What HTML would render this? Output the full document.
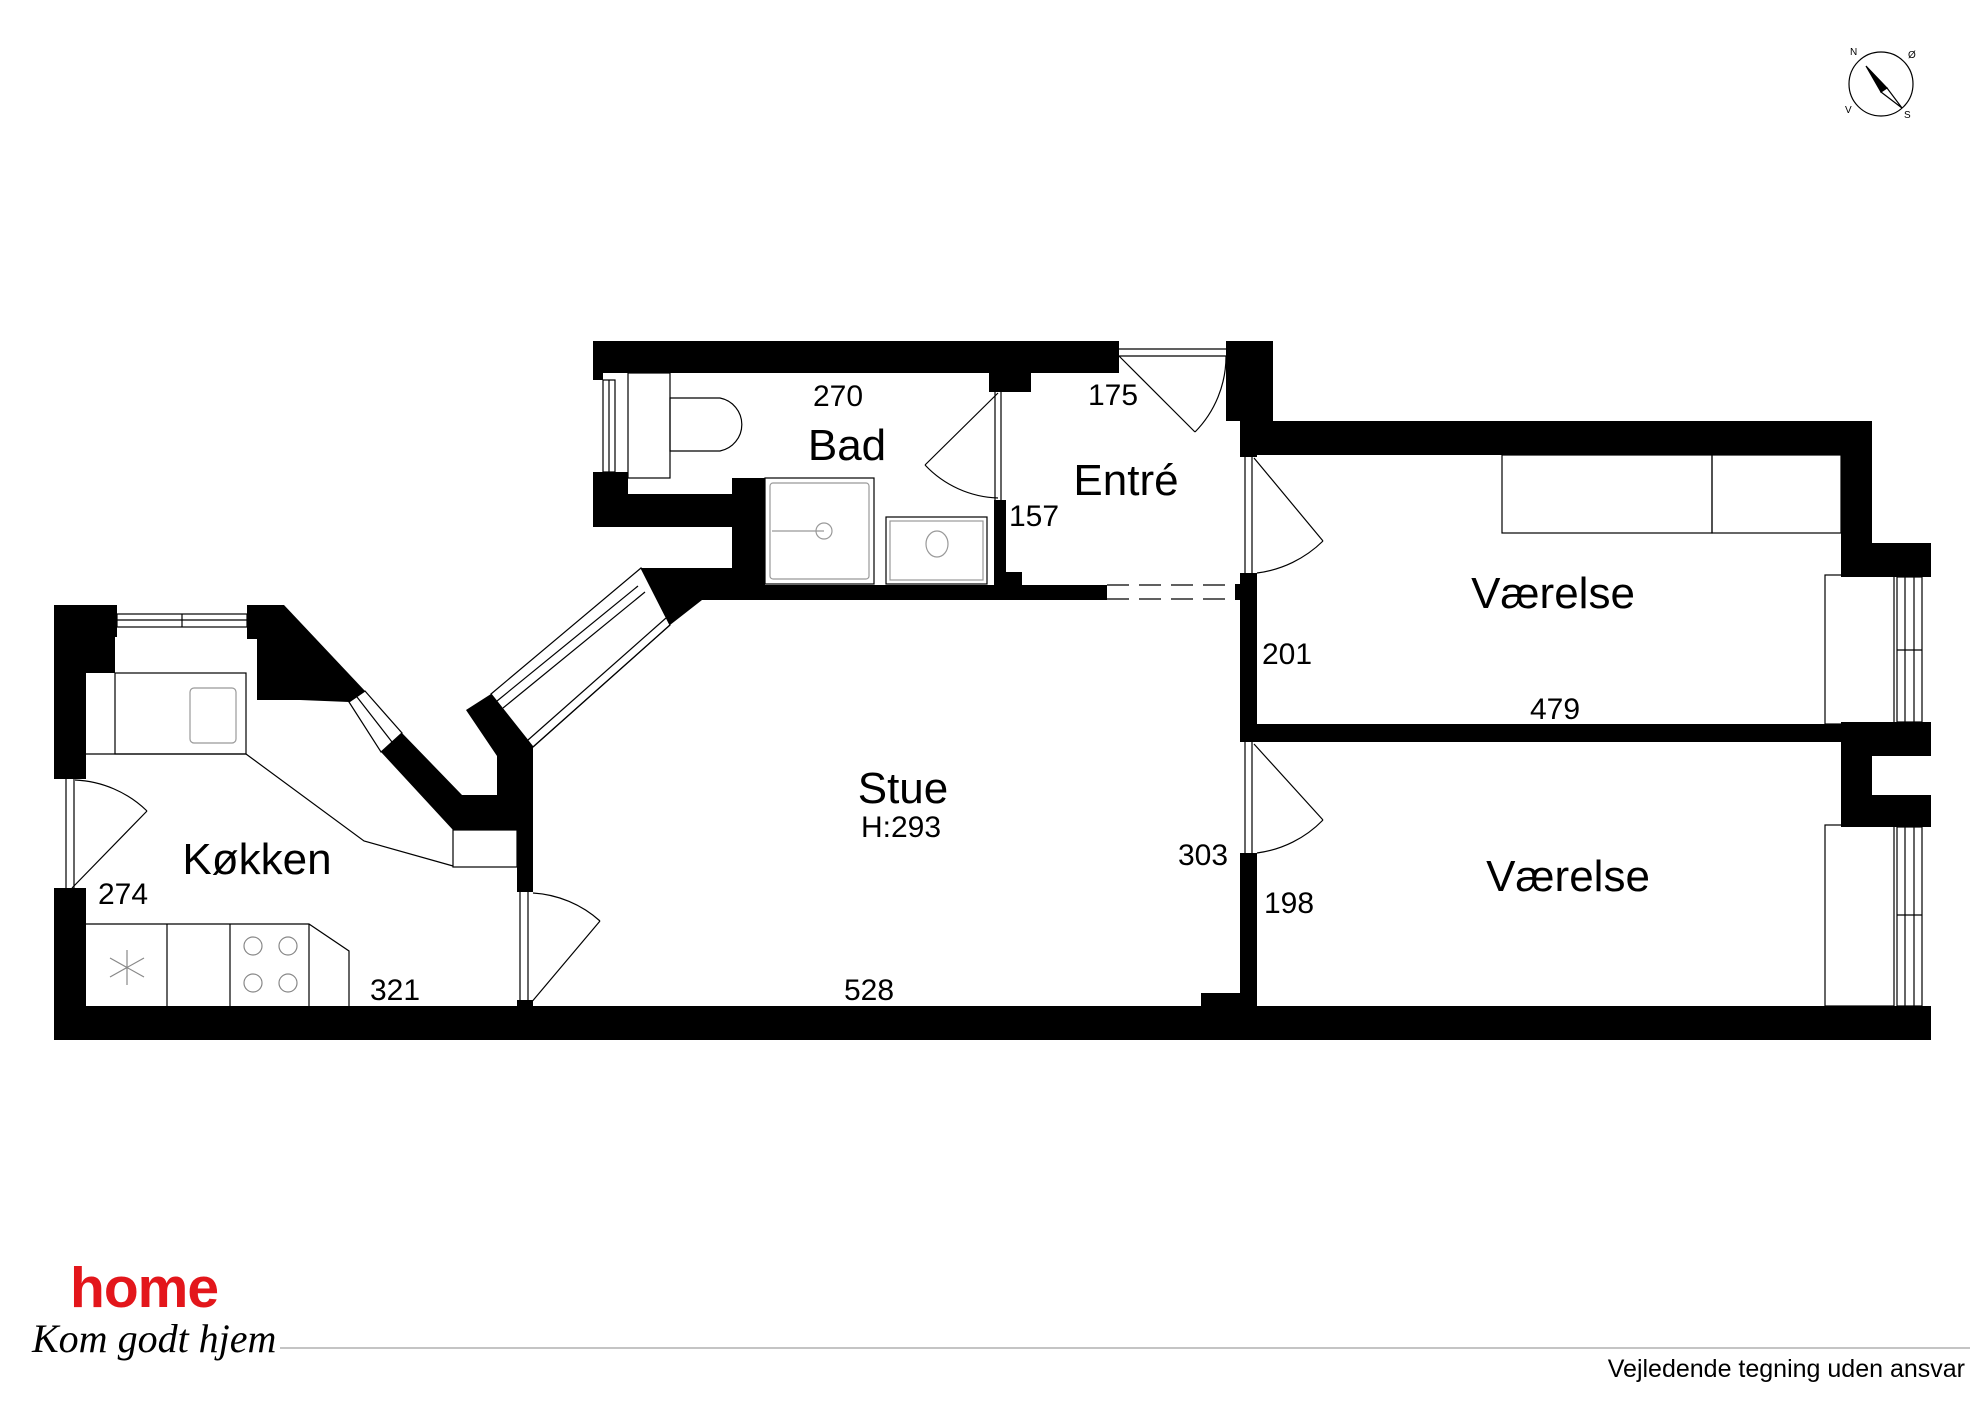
<!DOCTYPE html>
<html><head><meta charset="utf-8"><style>
html,body{margin:0;padding:0;background:#fff}
svg{display:block}
text{font-family:"Liberation Sans",Arial,sans-serif;fill:#000}
</style></head><body>
<svg width="1984" height="1403" viewBox="0 0 1984 1403" xmlns="http://www.w3.org/2000/svg">
<g fill="#000" stroke="none">
<rect x="54" y="1006" width="1877" height="34"/>
<rect x="54" y="605" width="32" height="174"/>
<rect x="54" y="605" width="63" height="32"/>
<rect x="86" y="637" width="29" height="36"/>
<rect x="54" y="888" width="32" height="120"/>
<polygon points="247,605 284,605 365,691 349,702 300,700 257,700 257,639 247,639"/>
<polygon points="381,752 402,733 462,795 497,795 497,756 466,710 491,694 533,747 533,892 517,892 517,830 453,830"/>
<rect x="517" y="1000" width="16" height="8"/>
<polygon points="629,578 641,568 736,568 736,600 702,600 670,625"/>
<rect x="593" y="341" width="526" height="32"/>
<rect x="593" y="341" width="10" height="39"/>
<rect x="593" y="472" width="35" height="55"/>
<rect x="593" y="494" width="139" height="33"/>
<rect x="732" y="478" width="33" height="122"/>
<rect x="702" y="585" width="405" height="15"/>
<rect x="989" y="341" width="42" height="51"/>
<rect x="994" y="500" width="12" height="100"/>
<rect x="1000" y="572" width="22" height="28"/>
<rect x="1226" y="341" width="47" height="80"/>
<rect x="1240" y="341" width="17" height="116"/>
<rect x="1240" y="573" width="17" height="169"/>
<rect x="1240" y="853" width="17" height="155"/>
<rect x="1235" y="584" width="8" height="16"/>
<rect x="1201" y="993" width="40" height="15"/>
<rect x="1257" y="421" width="615" height="34"/>
<rect x="1841" y="421" width="31" height="156"/>
<rect x="1841" y="543" width="90" height="34"/>
<rect x="1841" y="722" width="90" height="34"/>
<rect x="1841" y="756" width="31" height="71"/>
<rect x="1841" y="795" width="90" height="32"/>
<rect x="1240" y="724" width="601" height="18"/>
</g>
<g fill="none" stroke="#000" stroke-width="1.2">
<rect x="117" y="614" width="130" height="13"/><line x1="117" y1="620" x2="247" y2="620"/><line x1="182" y1="614" x2="182" y2="627"/>
<rect x="603" y="380" width="12" height="92"/><line x1="609" y1="380" x2="609" y2="472"/>
<rect x="1897" y="577" width="25" height="145"/><line x1="1905" y1="577" x2="1905" y2="722"/><line x1="1914" y1="577" x2="1914" y2="722"/><line x1="1897" y1="650" x2="1922" y2="650"/>
<rect x="1897" y="827" width="25" height="179"/><line x1="1905" y1="827" x2="1905" y2="1006"/><line x1="1914" y1="827" x2="1914" y2="1006"/><line x1="1897" y1="915" x2="1922" y2="915"/>
<line x1="1119" y1="349" x2="1226" y2="349"/><line x1="1119" y1="356" x2="1226" y2="356"/>
<polygon points="349,702 365,691 402,733 381,752" fill="#fff"/><line x1="357" y1="697" x2="392" y2="742"/>
<polygon points="491,694 641,568 670,625 533,747" fill="#fff"/>
<line x1="497" y1="701" x2="638" y2="586"/><line x1="503" y1="708" x2="645" y2="592"/><line x1="533" y1="747" x2="670" y2="625"/><line x1="528" y1="740" x2="666" y2="618"/>
<line x1="66" y1="779" x2="66" y2="888"/><line x1="74" y1="779" x2="74" y2="888"/>
<line x1="72" y1="888" x2="147" y2="811"/><path d="M147,811 A110,110 0 0 0 75,780"/>
<line x1="520" y1="892" x2="520" y2="1006"/><line x1="528" y1="892" x2="528" y2="1006"/>
<line x1="530" y1="1004" x2="600" y2="921"/><path d="M600,921 A110,110 0 0 0 533,893"/>
<line x1="995" y1="392" x2="995" y2="500"/><line x1="1001" y1="392" x2="1001" y2="500"/>
<line x1="998" y1="393" x2="925" y2="465"/><path d="M925,465 A105,105 0 0 0 998,498"/>
<line x1="1119" y1="356" x2="1195" y2="432"/><path d="M1195,432 A108,108 0 0 0 1226,356"/>
<line x1="1245" y1="455" x2="1245" y2="573"/><line x1="1252" y1="455" x2="1252" y2="573"/>
<line x1="1254" y1="458" x2="1323" y2="541"/><path d="M1323,541 A115,115 0 0 1 1257,573"/>
<line x1="1245" y1="742" x2="1245" y2="853"/><line x1="1252" y1="742" x2="1252" y2="853"/>
<line x1="1254" y1="744" x2="1323" y2="820"/><path d="M1323,820 A112,112 0 0 1 1257,853"/>
<line x1="1107" y1="585" x2="1235" y2="585" stroke-dasharray="22,10"/><line x1="1107" y1="599" x2="1235" y2="599" stroke-dasharray="22,10"/>
<rect x="115" y="673" width="131" height="81"/>
<rect x="190" y="688" width="46" height="55" rx="4" stroke="#999"/>
<line x1="86" y1="754" x2="246" y2="754"/>
<polyline points="246,754 364,841 453,866"/>
<rect x="453" y="830" width="64" height="37"/>
<polyline points="86,924 309,924 349,951 349,1006"/>
<line x1="167" y1="924" x2="167" y2="1006"/><line x1="230" y1="924" x2="230" y2="1006"/><line x1="309" y1="924" x2="309" y2="1006"/>
<g stroke="#888"><circle cx="253" cy="946" r="9"/><circle cx="288" cy="946" r="9"/><circle cx="253" cy="983" r="9"/><circle cx="288" cy="983" r="9"/>
<path d="M127,950 L127,985 M110,958 L144,977 M110,977 L144,958"/></g>
<rect x="628" y="373" width="42" height="105"/>
<path d="M670,398 L720,398 A27,27 0 0 1 720,451 L670,451 Z"/>
<rect x="765" y="478" width="109" height="106"/>
<rect x="770" y="483" width="99" height="96" stroke="#999" rx="3"/>
<circle cx="824" cy="531" r="8" stroke="#999"/><line x1="772" y1="531" x2="824" y2="531" stroke="#999"/>
<rect x="886" y="517" width="101" height="67"/><rect x="890" y="521" width="93" height="59" stroke="#999"/>
<ellipse cx="937" cy="544" rx="11" ry="13" stroke="#999"/>
<rect x="1502" y="455" width="210" height="78"/><rect x="1712" y="455" width="129" height="78"/>
<rect x="1825" y="575" width="69" height="149"/><rect x="1825" y="825" width="69" height="181"/>
</g>
<g font-size="30">
<text x="838" y="406" text-anchor="middle">270</text>
<text x="1113" y="405" text-anchor="middle">175</text>
<text x="1034" y="526" text-anchor="middle">157</text>
<text x="1287" y="664" text-anchor="middle">201</text>
<text x="1555" y="719" text-anchor="middle">479</text>
<text x="1203" y="865" text-anchor="middle">303</text>
<text x="1289" y="913" text-anchor="middle">198</text>
<text x="123" y="904" text-anchor="middle">274</text>
<text x="395" y="1000" text-anchor="middle">321</text>
<text x="869" y="1000" text-anchor="middle">528</text>
<text x="901" y="837" text-anchor="middle">H:293</text>
</g>
<g font-size="44" text-anchor="middle">
<text x="847" y="460">Bad</text>
<text x="1126" y="495">Entré</text>
<text x="903" y="803">Stue</text>
<text x="1553" y="608">Værelse</text>
<text x="1568" y="891">Værelse</text>
<text x="257" y="874">Køkken</text>
</g>
<g stroke="#000" fill="none" stroke-width="1.2">
<circle cx="1881" cy="84" r="32"/>
<polygon points="1866,66 1887,88 1881,92" fill="#000"/>
<polygon points="1887,88 1902,108 1881,92" fill="#fff"/>
</g>
<g font-size="10">
<text x="1850" y="55">N</text><text x="1908" y="58">Ø</text><text x="1904" y="118">S</text><text x="1845" y="113">V</text>
</g>
<text x="70" y="1307" font-size="57" font-weight="bold" letter-spacing="-1" style="fill:#e3161b">home</text>
<text x="32" y="1352" font-size="40" font-style="italic" style="font-family:'Liberation Serif',serif">Kom godt hjem</text>
<line x1="280" y1="1348" x2="1970" y2="1348" stroke="#888" stroke-width="1"/>
<text x="1965" y="1377" font-size="25" text-anchor="end">Vejledende tegning uden ansvar</text>
</svg>
</body></html>
